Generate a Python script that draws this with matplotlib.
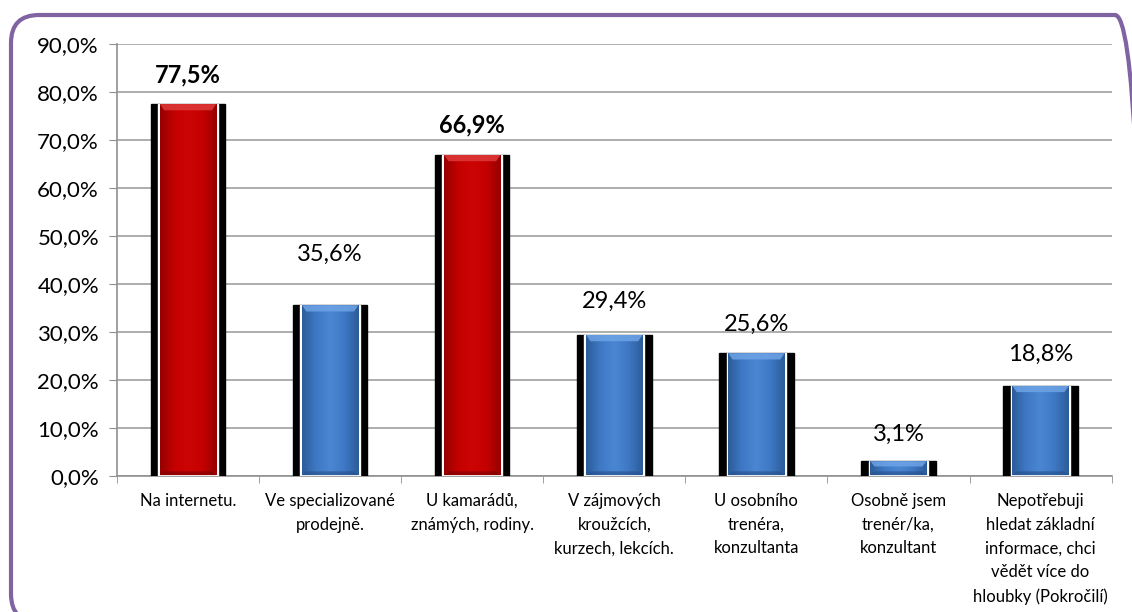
import matplotlib.pyplot as plt
import numpy as np
from matplotlib.patches import Rectangle, Polygon, FancyBboxPatch
from matplotlib.transforms import IdentityTransform
from matplotlib.ticker import FuncFormatter, MultipleLocator

plt.rcParams['font.family'] = ['Lato', 'DejaVu Sans']

categories = ['Na internetu.', 'Ve specializované\nprodejně.', 'U kamarádů,\nznámých, rodiny.',
              'V zájmových\nkroužcích,\nkurzech, lekcích.', 'U osobního\ntrenéra,\nkonzultanta',
              'Osobně jsem\ntrenér/ka,\nkonzultant',
              'Nepotřebuji\nhledat základní\ninformace, chci\nvědět více do\nhloubky (Pokročilí)']
values = [77.5, 35.6, 66.9, 29.4, 25.6, 3.1, 18.8]
highlight = [True, False, True, False, False, False, False]

fig = plt.figure(figsize=(11.32, 6.12), dpi=100)
ax = fig.add_axes([0.1034, 0.222, 0.8786, 0.706])

red = ['#960000', '#c40000', '#cc0404', '#c40000', '#960000']
blue = ['#2c5c9a', '#3f78c4', '#4a86d2', '#3f78c4', '#2c5c9a']

def hex2rgb(h):
    return [int(h[i:i + 2], 16) / 255 for i in (1, 3, 5)]

def gradient(cols, n=60):
    arr = np.array([hex2rgb(c) for c in cols])
    xs = np.linspace(0, 1, len(cols))
    t = np.linspace(0, 1, n)
    return np.stack([np.interp(t, xs, arr[:, k]) for k in range(3)], axis=-1)[None, :, :]

label_off = [13, 29, 13, 17, 13, 12, 15]

for i, (v, hl) in enumerate(zip(values, highlight)):
    # black shadow behind the bar
    ax.add_patch(Rectangle((i - 0.262, -0.4), 0.524, v + 0.4, color='black', zorder=3))
    x0, x1 = i - 0.198, i + 0.198
    ax.add_patch(Rectangle((x0 - 0.012, 0), x1 - x0 + 0.024, v, color='white', zorder=4))
    clip = Rectangle((x0, 0.2), x1 - x0, v - 0.2, transform=ax.transData)
    im = ax.imshow(gradient(red if hl else blue), extent=(x0, x1, 0.2, v), aspect='auto',
                   zorder=5, interpolation='bilinear')
    im.set_clip_path(clip)
    # bevel at the top and bottom of the bar
    b = min(1.3, v * 0.35)
    top = '#de3a3a' if hl else '#6ea4e6'
    ax.add_patch(Polygon([(x0, v), (x1, v), (x1 - 0.03, v - b), (x0 + 0.03, v - b)],
                         color=top, zorder=6, lw=0, alpha=0.85))
    bot = '#7a0000' if hl else '#244f88'
    ax.add_patch(Polygon([(x0, 0.2), (x1, 0.2), (x1 - 0.03, 1.0), (x0 + 0.03, 1.0)],
                         color=bot, zorder=6, lw=0, alpha=0.6))
    ax.annotate(f'{v:.1f}%'.replace('.', ','), (i, v), xytext=(0, label_off[i]),
                textcoords='offset points', ha='center', va='bottom', fontsize=17,
                fontweight='bold' if hl else 'normal', zorder=7)

ax.set_xlim(-0.5, len(values) - 0.5)
ax.set_ylim(0, 90)
ax.yaxis.set_major_locator(MultipleLocator(10))
ax.yaxis.set_major_formatter(FuncFormatter(lambda y, _: f'{y:.1f}%'.replace('.', ',')))
ax.yaxis.grid(True, color='#a0a0a0', lw=1.2, zorder=0)
ax.set_axisbelow(True)

ax.set_xticks(np.arange(len(values)))
ax.set_xticklabels(categories, fontsize=12, linespacing=1.6)
ax.set_xticks(np.arange(len(values) + 1) - 0.5, minor=True)
ax.tick_params(axis='x', which='major', length=0, pad=12)
ax.tick_params(axis='x', which='minor', length=5, color='#909090')
ax.tick_params(axis='y', length=6, color='#909090', labelsize=16, pad=7)
for s in ['top', 'right']:
    ax.spines[s].set_visible(False)
for s in ['left', 'bottom']:
    ax.spines[s].set_color('#909090')
    ax.spines[s].set_linewidth(1.2)

# rounded purple border, running off the right and bottom edges
frame = FancyBboxPatch((11, -10), 1132, 607, boxstyle='round,pad=0,rounding_size=28',
                       transform=IdentityTransform(), fill=False, ec='#8064a2', lw=3)
fig.patches.append(frame)

fig.savefig('out.png', dpi=100)
